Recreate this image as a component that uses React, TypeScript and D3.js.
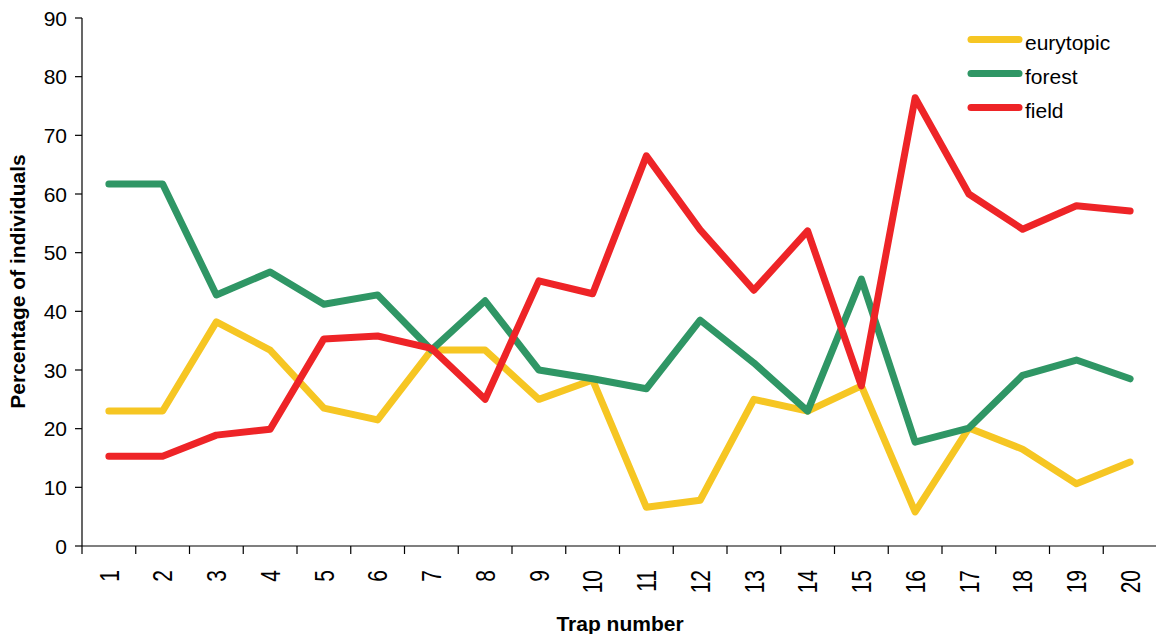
import React from "react";
import * as d3 from "d3";

const traps = ["1","2","3","4","5","6","7","8","9","10","11","12","13","14","15","16","17","18","19","20"];
const eurytopic = [23.0,23.0,38.2,33.4,23.5,21.5,33.4,33.4,25.0,28.3,6.6,7.8,25.0,23.0,27.3,5.8,20.1,16.5,10.6,14.3];
const forest = [61.7,61.7,42.8,46.7,41.2,42.8,33.4,41.8,30.0,28.5,26.8,38.5,31.2,23.0,45.5,17.7,20.1,29.1,31.7,28.5];
const field = [15.3,15.3,18.9,19.9,35.3,35.8,33.7,25.0,45.2,43.0,66.5,53.9,43.6,53.7,27.3,76.4,60.0,54.0,58.0,57.1];
const yTicks = [0,10,20,30,40,50,60,70,80,90];

const seriesList = [
  { name: "eurytopic", values: eurytopic, color: "#F6C623" },
  { name: "forest", values: forest, color: "#2F9665" },
  { name: "field", values: field, color: "#EE2427" },
];

export default function App() {
  const W = 1156, H = 634;
  const left = 82, right = 1157, top = 18, bottom = 546;
  const x = d3.scaleBand<string>().domain(traps).range([left, right]);
  const y = d3.scaleLinear().domain([0, 90]).range([bottom, top]);
  const font = "Liberation Sans, Arial, sans-serif";
  const line = d3.line<number>()
    .x((_, i) => (x(traps[i]) as number) + x.bandwidth() / 2)
    .y((v) => y(v));
  const boundaries = d3.range(traps.length + 1).map((i) => left + i * x.step());
  return (
    <svg width={W} height={H} style={{ position: "absolute", left: 0, top: 0 }} fontFamily={font}>
      {/* y axis */}
      <line x1={left} x2={left} y1={top} y2={bottom} stroke="#000" strokeWidth={1.2} />
      {yTicks.map((t) => (
        <g key={t}>
          <line x1={left - 7} x2={left} y1={y(t)} y2={y(t)} stroke="#000" strokeWidth={1.2} />
          <text x={67} y={y(t)} dy="0.36em" textAnchor="end" fontSize={21} fill="#000">{t}</text>
        </g>
      ))}
      {/* x axis */}
      <line x1={left} x2={W} y1={bottom} y2={bottom} stroke="#000" strokeWidth={1.2} />
      {boundaries.map((b, i) => (
        <line key={i} x1={b} x2={b} y1={bottom} y2={bottom + 8} stroke="#000" strokeWidth={1.2} />
      ))}
      {traps.map((t) => {
        const cx = (x(t) as number) + x.bandwidth() / 2;
        return (
          <text key={t} transform={`translate(${cx},570) rotate(-90) scale(1,1.3)`} textAnchor="end" dy="0.36em" fontSize={21} fill="#000">{t}</text>
        );
      })}
      <text x={620} y={631} textAnchor="middle" fontSize={21} fontWeight="bold" fill="#000">Trap number</text>
      <text transform={`translate(25,281.5) rotate(-90)`} textAnchor="middle" fontSize={21} fontWeight="bold" fill="#000">Percentage of individuals</text>
      {/* lines */}
      {seriesList.map((s) => (
        <path key={s.name} d={line(s.values) as string} fill="none" stroke={s.color} strokeWidth={7} strokeLinejoin="round" strokeLinecap="round" />
      ))}
      {/* legend */}
      {seriesList.map((s, i) => (
        <g key={s.name}>
          <line x1={971} x2={1019} y1={39.5 + i * 34} y2={39.5 + i * 34} stroke={s.color} strokeWidth={7} strokeLinecap="round" />
          <text x={1025} y={39.5 + i * 34 + 10.5} fontSize={21} fill="#000">{s.name}</text>
        </g>
      ))}
    </svg>
  );
}
